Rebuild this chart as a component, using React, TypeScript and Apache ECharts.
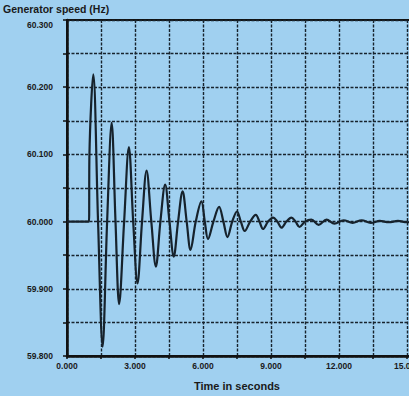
import React, { useEffect, useRef } from "react";
import * as echarts from "echarts";

const timeSeconds = [
  0, 0.97, 0.99, 1.16, 1.37, 1.57, 1.77, 1.97, 2.14, 2.3, 2.52, 2.73, 2.92, 3.11, 3.31, 3.51,
  3.72, 3.92, 4.12, 4.33, 4.52, 4.71, 4.9, 5.1, 5.28, 5.45, 5.68, 5.93, 6.08, 6.22, 6.46, 6.71,
  6.9, 7.08, 7.29, 7.5, 7.67, 7.84, 8.08, 8.33, 8.49, 8.65, 8.87, 9.09, 9.28, 9.46, 9.68, 9.9,
  10.08, 10.26, 10.5, 10.78, 11.1, 11.45, 11.8, 12.2, 12.6, 13.0, 13.4, 13.8, 14.2, 14.6, 15.0,
  15.4, 15.8, 16.5,
];
const speedHz = [
  60.0, 60.0, 60.1, 60.219, 60.0, 59.814, 60.0, 60.147, 60.0, 59.877, 60.0, 60.111, 60.0, 59.908,
  60.0, 60.076, 60.0, 59.933, 60.0, 60.055, 60.0, 59.948, 60.0, 60.045, 60.0, 59.958, 60.0,
  60.03, 60.0, 59.974, 60.0, 60.022, 60.0, 59.977, 60.0, 60.015, 60.0, 59.986, 60.0, 60.01,
  60.0, 59.989, 60.0, 60.006, 60.0, 59.991, 60.0, 60.006, 60.0, 59.992, 60.0, 60.003, 59.995,
  60.003, 59.997, 60.002, 59.998, 60.002, 59.998, 60.001, 59.999, 60.001, 59.999, 60.001, 60.0,
  60.0,
];
const yMin = 59.8;
const yMax = 60.3;
const xMax = 16.5;
const titleText = "Generator speed (Hz)";
const xTitle = "Time in seconds";

export default function App() {
  const ref = useRef<HTMLDivElement>(null);
  useEffect(() => {
    if (!ref.current) return;
    const chart = echarts.init(ref.current, undefined, { renderer: "svg" });
    const data = timeSeconds.map((t, i) => [t, speedHz[i]]);
    const gridLine = { show: true, lineStyle: { color: "#17232d", width: 1.4, type: [3, 1.5] as any } };
    chart.setOption({
      animation: false,
      backgroundColor: "#a0d0f0",
      textStyle: { fontFamily: "Liberation Sans, Arial, sans-serif" },
      grid: {
        left: 67,
        top: 20,
        height: 336,
        width: 374,
        outerBoundsMode: "none",
        containLabel: false,
        show: true,
        borderColor: "#111",
        borderWidth: 2,
        backgroundColor: "transparent",
      },
      graphic: [
        {
          type: "text",
          left: 3,
          top: 3,
          style: { text: titleText, fontSize: 10.5, fontWeight: "bold", fill: "#1a1a1a", fontFamily: "Liberation Sans, Arial, sans-serif" },
        },
        {
          type: "text",
          x: 237,
          y: 386,
          style: {
            text: xTitle,
            fontSize: 11,
            fontWeight: "bold",
            fill: "#1a1a1a",
            align: "center",
            verticalAlign: "middle",
            fontFamily: "Liberation Sans, Arial, sans-serif",
          },
        },
      ],
      xAxis: {
        type: "value",
        min: 0,
        max: xMax,
        interval: 1.5,
        axisLine: { show: true, lineStyle: { color: "#111", width: 2.5 } },
        axisTick: { show: true, length: 3, lineStyle: { color: "#111", width: 1.5 } },
        splitLine: gridLine,
        axisLabel: {
          margin: 5,
          fontSize: 8.5,
          fontWeight: "bold",
          color: "#1a1a1a",
          showMaxLabel: false,
          formatter: (v: number) => (Math.round(v * 10) % 30 === 0 ? v.toFixed(3) : ""),
        },
      },
      yAxis: {
        type: "value",
        min: yMin,
        max: yMax,
        interval: 0.05,
        axisLine: { show: true, lineStyle: { color: "#111", width: 2.5 } },
        axisTick: { show: true, length: 4, lineStyle: { color: "#111", width: 1.5 } },
        splitLine: gridLine,
        axisLabel: {
          margin: 14,
          fontSize: 8.5,
          fontWeight: "bold",
          color: "#1a1a1a",
          verticalAlignMaxLabel: "top",
          formatter: (v: number) => (Math.round(v * 1000) % 100 === 0 ? v.toFixed(3) : ""),
        },
      },
      series: [
        {
          type: "line",
          data,
          smooth: 0.35,
          showSymbol: false,
          lineStyle: { color: "#16222c", width: 2.2 },
        },
      ],
    });
    return () => chart.dispose();
  }, []);
  return (
    <div
      ref={ref}
      style={{ position: "fixed", left: 0, top: 0, width: 409, height: 396 }}
    />
  );
}
